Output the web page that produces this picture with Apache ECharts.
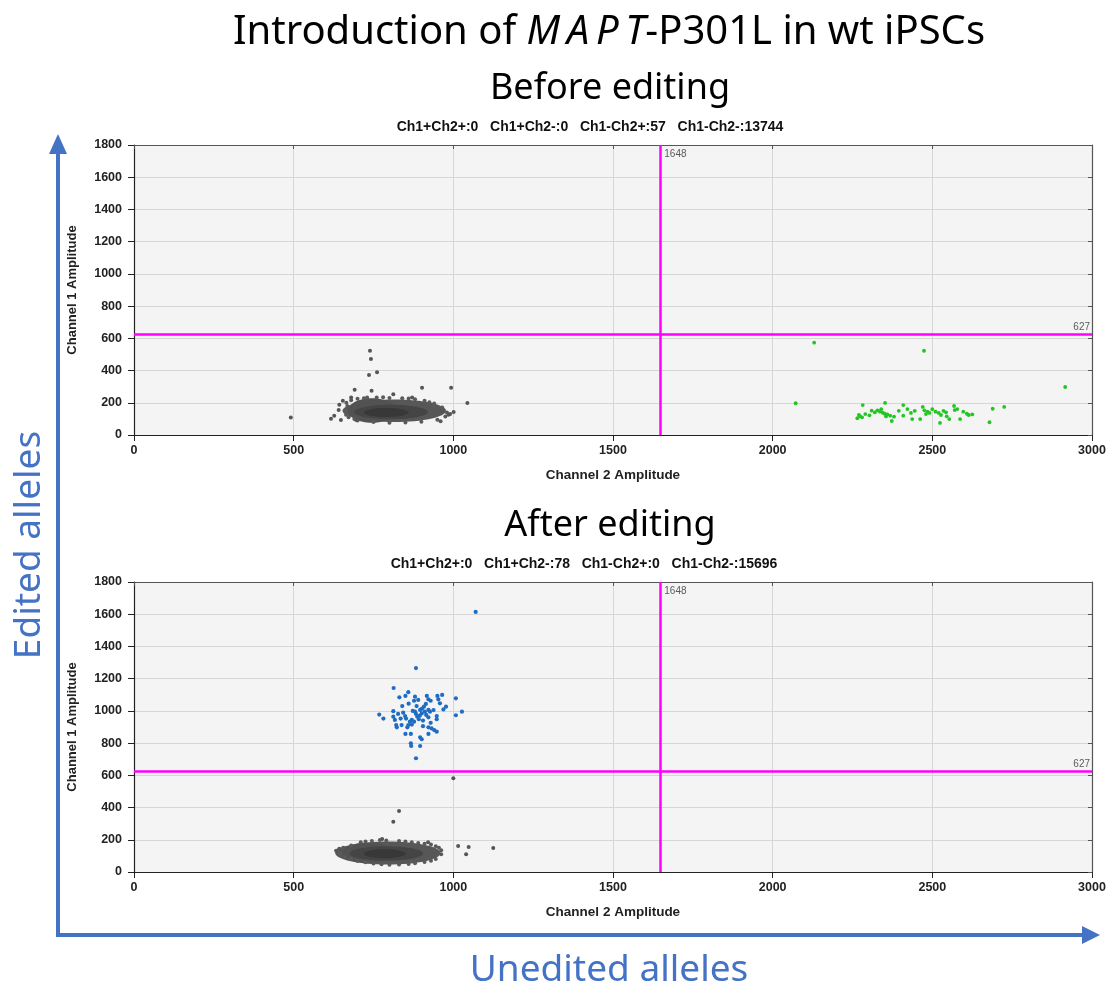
<!DOCTYPE html>
<html>
<head>
<meta charset="utf-8">
<script src="https://cdn.jsdelivr.net/npm/echarts@6/dist/echarts.min.js"></script>
<style>html,body{margin:0;padding:0;background:#fff}#c{width:1111px;height:990px}</style>
</head>
<body>
<div id="c"></div>
<script>
// ---------------- data ----------------
var xTicks = [0, 500, 1000, 1500, 2000, 2500, 3000];
var yTicks = [0, 200, 400, 600, 800, 1000, 1200, 1400, 1600, 1800];
var thresholdCh2 = 1648;
var thresholdCh1 = 627;
var headerBefore = 'Ch1+Ch2+:0   Ch1+Ch2-:0   Ch1-Ch2+:57   Ch1-Ch2-:13744';
var headerAfter = 'Ch1+Ch2+:0   Ch1+Ch2-:78   Ch1-Ch2+:0   Ch1-Ch2-:15696';

// dense negative-droplet clusters: [centre ch2, centre ch1, spread ch2, spread ch1]
var blobBefore = [[815,150,162,70],[745,152,75,76],[805,142,115,45],[790,140,70,28]];
var blobAfter  = [[795,118,165,72],[730,120,80,62],[790,115,115,45],[785,113,65,28]];

var grayBeforeEdge = [[665,200],[680,215],[700,225],[720,228],[760,232],[800,230],[840,228],[880,222],[910,212],[940,195],[965,170],[980,140],[975,115],[950,95],[900,82],[850,78],[800,76],[750,80],[700,90],[672,110],[662,150],[668,180],[730,232],[780,234],[860,226],[925,204],[985,125],[960,86],[690,100],[664,125]];
var grayBeforeOut = [[739,523],[742,472],[761,389],[736,372],[691,281],[744,275],[902,294],[993,294],[1044,199],[491,108],[617,101],[627,120],[648,93],[641,155],[643,188],[654,213],[680,232],[812,253],[696,93],[1001,143],[990,131],[871,232]];
var greenBefore = [[2130,573],[2474,523],[2916,298],[2072,197],
  [2282,186],[2352,199],[2409,186],[2470,174],[2568,180],[2689,163],[2725,174],
  [2265,104],[2274,116],[2280,110],[2303,122],[2310,151],[2328,153],[2336,145],[2345,138],[2351,132],[2359,128],[2368,120],[2373,87],[2380,114],[2409,120],[2422,161],[2433,137],[2437,99],[2462,99],[2475,153],[2485,145],[2491,137],[2510,145],[2520,137],[2527,124],[2524,75],[2543,141],[2545,116],[2553,99],[2578,161],[2587,99],[2597,145],[2608,132],[2614,124],[2679,79],
  [2270,125],[2290,130],[2320,140],[2340,160],[2355,115],[2395,150],[2445,150],[2480,130],[2500,160],[2535,150],[2570,155],[2625,128]];

var grayAfterEdge = [[640,135],[655,150],[680,165],[710,185],[745,192],[790,195],[830,192],[870,185],[910,175],[945,160],[962,135],[962,110],[945,80],[910,62],[860,50],[800,45],[750,52],[700,68],[660,95],[645,115],[725,190],[770,198],[850,190],[890,180],[930,170],[955,150],[930,70],[880,55],[830,46],[775,48],[725,60],[680,80]];
var grayAfterOut = [[1000,582],[830,379],[812,312],[777,205],[921,184],[1015,161],[1048,155],[1040,110],[1125,149],[633,132],[643,145]];
var blueAfter = [[883,1266],[813,1142],[831,1084],[850,1093],[859,1116],[880,1088],[877,1063],[890,1068],[917,1093],[922,1072],[929,1063],[950,1093],[953,1072],[965,1099],[958,1047],[977,1026],[1008,1078],[969,1009],[1027,995],[1008,973],[768,977],[781,952],[812,998],[812,964],[827,981],[843,989],[849,968],[852,952],[817,944],[835,952],[821,912],[823,898],[838,912],[850,857],[856,898],[859,912],[864,933],[870,944],[867,857],[867,799],[868,782],[880,995],[883,981],[887,964],[892,948],[877,933],[896,1006],[902,1014],[908,1026],[914,1043],[901,984],[911,995],[922,1006],[927,995],[922,960],[929,926],[922,898],[932,891],[940,881],[948,871],[896,836],[901,824],[896,782],[922,857],[948,968],[948,948],[883,706],[1070,1614],
  [873,1000],[895,970],[905,940],[860,1045],[885,1030],[915,975],[840,1030],[870,915],[938,1005],[905,905]];

// ---------------- styles ----------------
var layerColors = ['#575757', '#525252', '#454545', '#383838'];
var BLUE = '#4472C4';
var labelFont = {fontFamily: 'Liberation Sans, Arial, sans-serif', fontSize: 12.5, fontWeight: 'bold', color: '#222'};
function plain(v) { return String(v); }

function grid(top) { return {left: 134, top: top, width: 958, height: 290, show: true, backgroundColor: '#f4f4f4', borderWidth: 0}; }

function xBottom(g) {
  return {type: 'value', gridIndex: g, min: 0, max: 3000, interval: 500, position: 'bottom',
    name: 'Channel 2 Amplitude', nameLocation: 'middle', nameGap: 33,
    nameTextStyle: {fontFamily: 'Liberation Sans, Arial', fontSize: 13.5, fontWeight: 'bold', color: '#222'},
    axisLine: {show: true, onZero: false, lineStyle: {color: '#222', width: 1.2}},
    axisTick: {show: true, inside: false, length: 6, lineStyle: {color: '#222'}},
    axisLabel: Object.assign({margin: 9, formatter: plain}, labelFont),
    splitLine: {show: true, lineStyle: {color: '#d6d6d6', width: 1}}};
}
function xTop(g) {
  return {type: 'value', gridIndex: g, min: 0, max: 3000, interval: 500, position: 'top',
    axisLine: {show: true, onZero: false, lineStyle: {color: '#555', width: 1.2}},
    axisTick: {show: true, inside: true, length: 4, lineStyle: {color: '#555'}},
    axisLabel: {show: false}, splitLine: {show: false}};
}
function yLeft(g) {
  return {type: 'value', gridIndex: g, min: 0, max: 1800, interval: 200, position: 'left',
    name: 'Channel 1 Amplitude', nameLocation: 'middle', nameGap: 55, nameRotate: 90,
    nameTextStyle: {fontFamily: 'Liberation Sans, Arial', fontSize: 13, fontWeight: 'bold', color: '#222'},
    axisLine: {show: true, onZero: false, lineStyle: {color: '#222', width: 1.2}},
    axisTick: {show: true, inside: false, length: 6, lineStyle: {color: '#222'}},
    axisLabel: Object.assign({margin: 12, formatter: plain}, labelFont),
    splitLine: {show: true, lineStyle: {color: '#d6d6d6', width: 1}}};
}
function yRight(g) {
  return {type: 'value', gridIndex: g, min: 0, max: 1800, interval: 200, position: 'right',
    axisLine: {show: true, onZero: false, lineStyle: {color: '#555', width: 1.2}},
    axisTick: {show: true, inside: true, length: 4, lineStyle: {color: '#555'}},
    axisLabel: {show: false}, splitLine: {show: false}};
}

function blobSeries(data, ax) {
  return {type: 'custom', xAxisIndex: ax, yAxisIndex: ax, data: data, silent: true, z: 2,
    renderItem: function (params, api) {
      var c = api.coord([api.value(0), api.value(1)]);
      var s = api.size([api.value(2), api.value(3)]);
      return {type: 'ellipse', shape: {cx: c[0], cy: c[1], rx: s[0], ry: s[1]},
        style: {fill: layerColors[params.dataIndex], opacity: 1}};
    }};
}
function dots(data, ax, color, size, z) {
  return {type: 'scatter', xAxisIndex: ax, yAxisIndex: ax, data: data, symbol: 'circle', symbolSize: size || 4,
    itemStyle: {color: color, opacity: 1}, silent: true, z: z || 3, animation: false};
}
function thresholds(ax) {
  return {type: 'scatter', xAxisIndex: ax, yAxisIndex: ax, symbolSize: 0, silent: true, z: 6,
    data: [[thresholdCh2, 1800], [3000, thresholdCh1]],
    label: {show: true, fontFamily: 'Liberation Sans, Arial', fontSize: 10, color: '#333',
      formatter: function (p) { return p.dataIndex === 0 ? String(thresholdCh2) : String(thresholdCh1); },
      position: 'inside', align: 'left', verticalAlign: 'top'},
    labelLayout: function (p) {
      if (p.dataIndex === 0) return {x: p.rect.x + 4, y: p.rect.y + 4, align: 'left', verticalAlign: 'top'};
      return {x: p.rect.x - 2, y: p.rect.y - 2, align: 'right', verticalAlign: 'bottom'};
    },
    markLine: {silent: true, symbol: 'none', animation: false,
      lineStyle: {color: '#ff00ff', width: 2.5, type: 'solid'}, label: {show: false},
      data: [{xAxis: thresholdCh2}, {yAxis: thresholdCh1}]}};
}

var chart = echarts.init(document.getElementById('c'), null, {renderer: 'canvas'});
var titleFont = 'Noto Sans, Open Sans, sans-serif';
chart.setOption({
  animation: false,
  backgroundColor: '#ffffff',
  grid: [grid(145), grid(582)],
  xAxis: [xBottom(0), xTop(0), xBottom(1), xTop(1)],
  yAxis: [yLeft(0), yRight(0), yLeft(1), yRight(1)],
  series: [
    blobSeries(blobBefore, 0),
    dots(grayBeforeEdge, 0, '#5a5a5a', 4),
    dots(grayBeforeOut, 0, '#555555', 4),
    dots(greenBefore, 0, '#22c622', 3.8),
    thresholds(0),
    blobSeries(blobAfter, 2),
    dots(grayAfterEdge, 2, '#5a5a5a', 4),
    dots(grayAfterOut, 2, '#555555', 4),
    dots(blueAfter, 2, '#1f6cc4', 4.2),
    thresholds(2)
  ],
  graphic: [
    {type: 'text', z: 10, style: {x: 609, y: 33, align: 'center', verticalAlign: 'middle',
      text: '{a|Introduction of }{i|M\u2009A\u2009P\u2009T}{a|-P301L in wt iPSCs}',
      rich: {a: {fontFamily: titleFont, fontSize: 40, fill: '#000'},
             i: {fontFamily: titleFont, fontSize: 40, fontStyle: 'italic', fill: '#000'}}}},
    {type: 'text', z: 10, style: {x: 610, y: 89, align: 'center', verticalAlign: 'middle', text: 'Before editing',
      font: '36px Noto Sans, Open Sans, sans-serif', fill: '#000'}},
    {type: 'text', z: 10, style: {x: 590, y: 127, align: 'center', verticalAlign: 'middle', text: headerBefore,
      font: 'bold 14px Liberation Sans, Arial, sans-serif', fill: '#111'}},
    {type: 'text', z: 10, style: {x: 610, y: 526, align: 'center', verticalAlign: 'middle', text: 'After editing',
      font: '36px Noto Sans, Open Sans, sans-serif', fill: '#000'}},
    {type: 'text', z: 10, style: {x: 584, y: 564, align: 'center', verticalAlign: 'middle', text: headerAfter,
      font: 'bold 14px Liberation Sans, Arial, sans-serif', fill: '#111'}},
    {type: 'line', z: 10, shape: {x1: 58, y1: 937, x2: 58, y2: 152}, style: {stroke: BLUE, lineWidth: 4}},
    {type: 'polygon', z: 10, shape: {points: [[58, 134], [49, 154], [67, 154]]}, style: {fill: BLUE}},
    {type: 'line', z: 10, shape: {x1: 56, y1: 935, x2: 1084, y2: 935}, style: {stroke: BLUE, lineWidth: 4}},
    {type: 'polygon', z: 10, shape: {points: [[1100, 935], [1082, 926], [1082, 944]]}, style: {fill: BLUE}},
    {type: 'text', z: 10, rotation: Math.PI / 2, x: 29, y: 545, style: {x: 0, y: 0, align: 'center', verticalAlign: 'middle',
      text: 'Edited alleles', font: '37px Noto Sans, Open Sans, sans-serif', fill: BLUE}},
    {type: 'text', z: 10, style: {x: 609, y: 970, align: 'center', verticalAlign: 'middle', text: 'Unedited alleles',
      font: '37px Noto Sans, Open Sans, sans-serif', fill: BLUE}}
  ]
});
</script>
</body>
</html>
